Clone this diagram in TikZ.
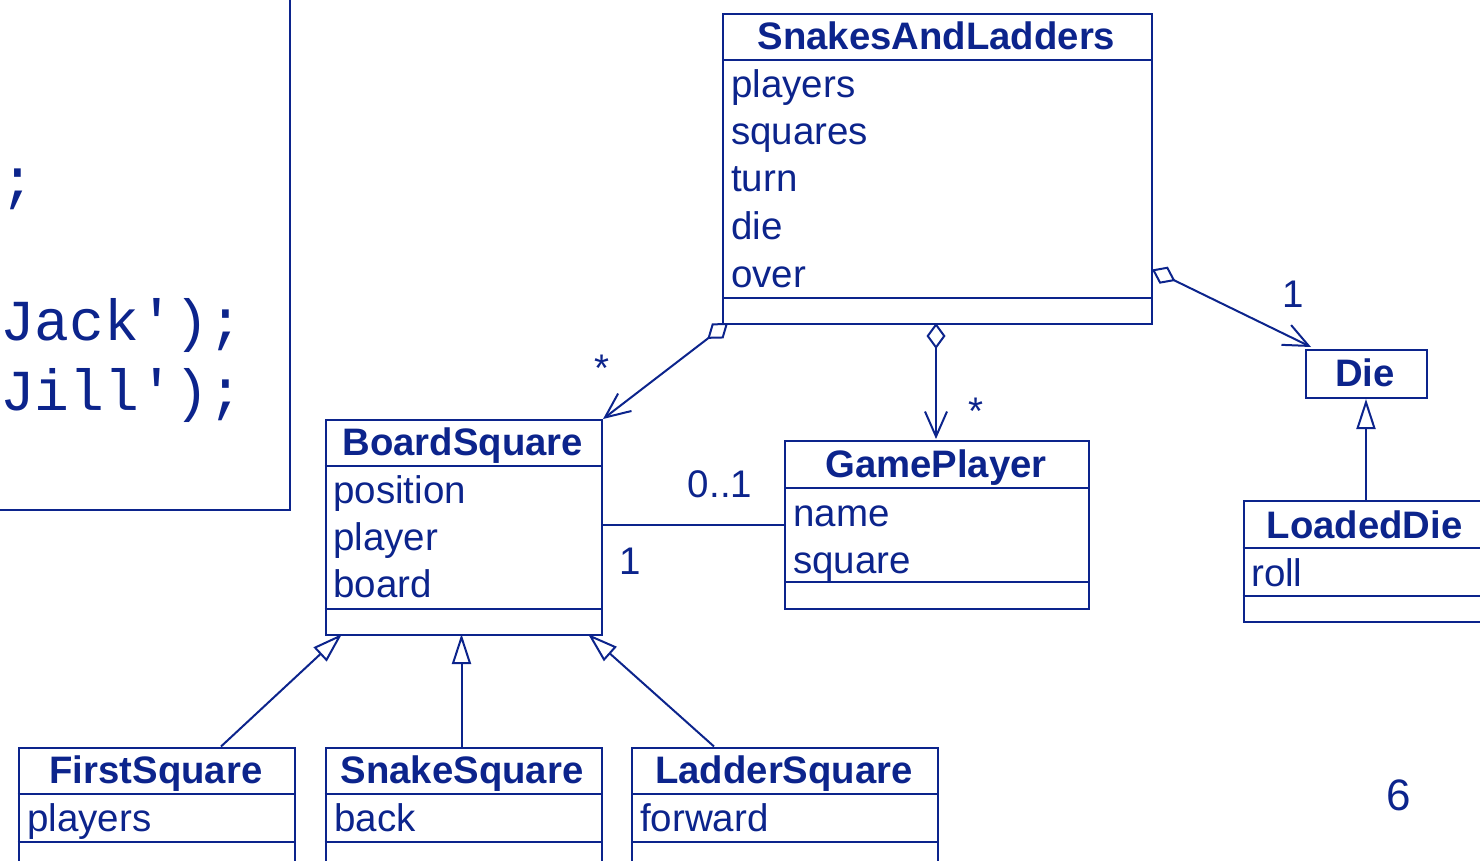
\documentclass[tikz,border=0pt]{standalone}
\usepackage{fontspec}
\setmainfont{Liberation Sans}
\newfontfamily\codefont[Ligatures=TeXOff]{Liberation Mono}
\usetikzlibrary{arrows.meta}
\definecolor{umlblue}{RGB}{12,36,140}
\begin{document}
\begin{tikzpicture}[x=1pt,y=-1pt,
  classbox/.style={draw=umlblue, line width=2pt, inner sep=0pt, anchor=north west},
  ctitle/.style={text=umlblue, font=\fontsize{38.3}{46}\selectfont\bfseries, anchor=base, inner sep=0pt},
  attr/.style={text=umlblue, font=\fontsize{38.5}{46}\selectfont, anchor=base west, inner sep=0pt},
  lbl/.style={text=umlblue, font=\fontsize{38.5}{46}\selectfont, anchor=base, inner sep=0pt},
  codetext/.style={text=umlblue, font=\codefont\fontsize{58}{70}\selectfont, anchor=base west, inner sep=0pt},
  conn/.style={draw=umlblue, line width=2pt},
  agg/.style={conn, {Diamond[open,length=26pt,width=19pt]}-{Straight Barb[length=25pt,width=22pt]}},
  gen/.style={conn, -{Triangle[open,length=30pt,width=19pt]}},
  sep/.style={draw=umlblue, line width=2pt}
]
\useasboundingbox (0,0) rectangle (1480,861);
\clip (0,0) rectangle (1480,861);

% code box (partly outside the picture)
\node[classbox, anchor=south east, minimum width=331pt, minimum height=551pt] (code) at (291,511) {};
\node[codetext] (c1) at (0,200) {;};
\node[codetext] (c2) at (0,340) {Jack');};
\node[codetext] (c3) at (0,410) {Jill');};

% SnakesAndLadders
\node[classbox, minimum width=429pt, minimum height=310pt] (sal) at (722,13) {};
\draw[sep] (sal.west |- 0,60) -- (sal.east |- 0,60);
\draw[sep] (sal.west |- 0,297.5) -- (sal.east |- 0,297.5);
\node[ctitle] (salT) at (936.5,50) {SnakesAndLadders};
\node[attr] (salA1) at (731,98) {players};
\node[attr] (salA2) at (731,145) {squares};
\node[attr] (salA3) at (731,192) {turn};
\node[attr] (salA4) at (731,239.5) {die};
\node[attr] (salA5) at (731,287) {over};

% BoardSquare
\node[classbox, minimum width=276.5pt, minimum height=215pt] (bs) at (324.5,419) {};
\draw[sep] (bs.west |- 0,465.5) -- (bs.east |- 0,465.5);
\draw[sep] (bs.west |- 0,608.5) -- (bs.east |- 0,608.5);
\node[ctitle] (bsT) at (462.7,455.7) {BoardSquare};
\node[attr] (bsA1) at (333,503) {position};
\node[attr] (bsA2) at (333,550.5) {player};
\node[attr] (bsA3) at (333,597.5) {board};

% GamePlayer
\node[classbox, minimum width=304pt, minimum height=168pt] (gp) at (784,440) {};
\draw[sep] (gp.west |- 0,487.5) -- (gp.east |- 0,487.5);
\draw[sep] (gp.west |- 0,582) -- (gp.east |- 0,582);
\node[ctitle] (gpT) at (936,477.7) {GamePlayer};
\node[attr] (gpA1) at (793,526.5) {name};
\node[attr] (gpA2) at (793,573) {square};

% Die
\node[classbox, minimum width=121pt, minimum height=48pt] (die) at (1304.5,349) {};
\node[ctitle] (dieT) at (1365,386.7) {Die};

% LoadedDie
\node[classbox, minimum width=245pt, minimum height=121pt] (ld) at (1242.5,500) {};
\draw[sep] (ld.west |- 0,547.7) -- (ld.east |- 0,547.7);
\draw[sep] (ld.west |- 0,596) -- (ld.east |- 0,596);
\node[ctitle] (ldT) at (1364.5,538.3) {LoadedDie};
\node[attr] (ldA1) at (1251,586) {roll};

% FirstSquare
\node[classbox, minimum width=276.5pt, minimum height=150pt] (fs) at (17.5,746.5) {};
\draw[sep] (fs.west |- 0,794) -- (fs.east |- 0,794);
\draw[sep] (fs.west |- 0,841.7) -- (fs.east |- 0,841.7);
\node[ctitle] (fsT) at (156,783) {FirstSquare};
\node[attr] (fsA1) at (27,831) {players};

% SnakeSquare
\node[classbox, minimum width=276.5pt, minimum height=150pt] (ss) at (324.5,746.5) {};
\draw[sep] (ss.west |- 0,794) -- (ss.east |- 0,794);
\draw[sep] (ss.west |- 0,841.7) -- (ss.east |- 0,841.7);
\node[ctitle] (ssT) at (462,783) {SnakeSquare};
\node[attr] (ssA1) at (334,831) {back};

% LadderSquare
\node[classbox, minimum width=306pt, minimum height=150pt] (ls) at (631,746.5) {};
\draw[sep] (ls.west |- 0,794) -- (ls.east |- 0,794);
\draw[sep] (ls.west |- 0,841.7) -- (ls.east |- 0,841.7);
\node[ctitle] (lsT) at (784,783) {LadderSquare};
\node[attr] (lsA1) at (640,831) {forward};

% aggregations
\coordinate (a1s) at (728,323);
\draw[agg] (a1s) -- (bs.north east);
\node[lbl] (m1) at (602,381.5) {*};

\coordinate (a2s) at (936,323);
\coordinate (a2e) at (936,439);
\draw[agg] (a2s) -- (a2e);
\node[lbl] (m2) at (976,424.5) {*};

\coordinate (a3s) at (1152,269.5);
\coordinate (a3e) at (1311,347);
\draw[agg] (a3s) -- (a3e);
\node[lbl] (m3) at (1293,307) {1};

% association BoardSquare -- GamePlayer
\coordinate (as1) at (601,525);
\coordinate (as2) at (784,525);
\draw[conn] (as1) -- (as2);
\node[lbl] (m4) at (720,497) {0..1};
\node[lbl] (m5) at (630,574) {1};

% generalizations
\coordinate (g1s) at (221,746.5);
\coordinate (g1e) at (342,634);
\draw[gen] (g1s) -- (g1e);
\coordinate (g2s) at (461.5,746.5);
\coordinate (g2e) at (461.5,634);
\draw[gen] (g2s) -- (g2e);
\coordinate (g3s) at (714,746.5);
\coordinate (g3e) at (588,634);
\draw[gen] (g3s) -- (g3e);
\draw[gen] (ld.north) -- (die.south);

% page number
\node[text=umlblue, font=\fontsize{44}{52}\selectfont, anchor=base, inner sep=0pt] (pg) at (1399,810) {6};
\end{tikzpicture}
\end{document}
